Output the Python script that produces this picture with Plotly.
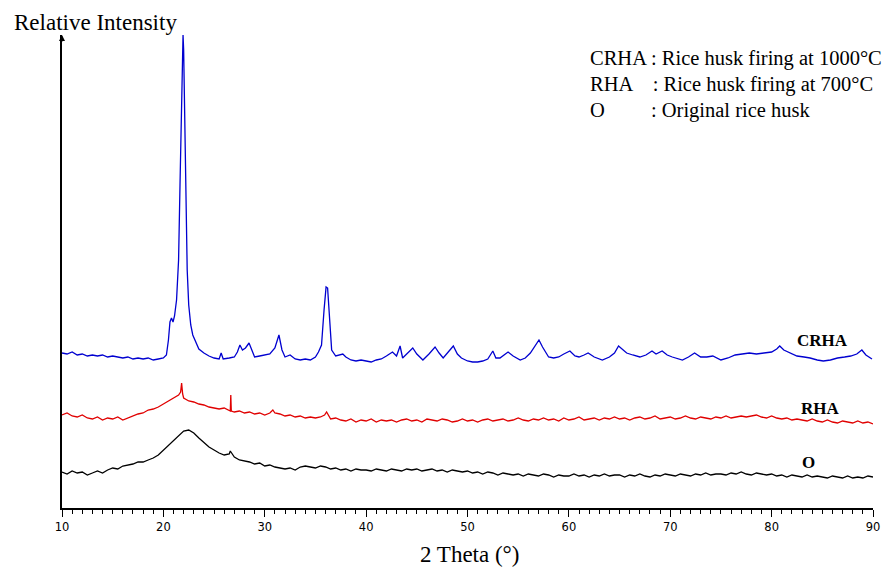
import plotly.graph_objects as go

# ---- CRHA (rice husk fired at 1000 C) ----
crha_theta = [10, 10.5, 11, 11.5, 12, 12.5, 13, 13.5, 14, 14.5, 15, 15.5, 16, 16.5, 17, 17.5, 18, 18.5, 19, 19.5,
              20, 20.3, 20.5, 20.65, 20.8, 20.95, 21.1, 21.3, 21.5, 21.65, 21.78, 21.88, 21.94, 22.0, 22.1, 22.2,
              22.35, 22.5, 22.7, 22.9, 23.2, 23.5, 24, 24.5, 25, 25.5, 25.7, 25.9, 26.5, 27, 27.3, 27.55, 27.8,
              28.1, 28.45, 28.7, 29, 29.5, 30, 30.5, 31, 31.4, 31.7, 32, 32.5, 33, 33.5, 34, 34.5, 35, 35.3, 35.6,
              35.85, 36.05, 36.2, 36.4, 36.6, 37, 37.7, 38, 38.5, 39, 39.5, 40, 40.5, 41, 41.5, 42, 42.6, 43, 43.35,
              43.6, 44, 44.6, 45, 45.6, 46.2, 46.8, 47.2, 47.6, 48.1, 48.6, 49, 49.4, 50, 50.5, 51, 51.5, 52, 52.5,
              52.8, 53.2, 54, 54.5, 55.2, 55.7, 56.2, 56.7, 57.05, 57.4, 58, 58.5, 59, 59.5, 60.1, 60.6, 61, 61.5,
              61.9, 62.5, 63.3, 64, 64.5, 64.9, 65.3, 65.7, 66.3, 67, 67.6, 68.2, 68.6, 69.2, 69.7, 70.2, 71.2,
              71.8, 72.4, 73, 73.6, 74.2, 75, 75.7, 76.4, 77, 77.8, 78.5, 79.3, 80, 80.5, 80.8, 81.2, 81.8, 82.5,
              83.2, 83.8, 84.5, 85.1, 85.8, 86.5, 87.2, 87.8, 88.4, 88.9, 89.3, 89.9]
crha_int = [155, 154, 156, 153, 154, 152, 153, 152, 153, 151, 152, 151, 150, 151, 149, 150, 149, 150, 148, 149,
            150, 153, 168, 186, 190, 186, 192, 208, 248, 328, 408, 468, 473, 458, 388, 308,
            238, 203, 183, 173, 165, 159, 155, 152, 150, 149, 155, 149, 150, 151, 156, 163, 158,
            160, 165, 158, 151, 152, 153, 154, 160, 173, 158, 151, 153, 149, 148, 149, 148, 151, 156, 163,
            198, 221, 220, 188, 158, 152, 154, 151, 148, 147, 148, 147, 146, 148, 149, 152, 156, 152, 162,
            150, 154, 160, 154, 148, 154, 161, 155, 150, 156, 162, 154, 150, 147, 146, 146, 147, 149, 157,
            150, 150, 156, 152, 148, 150, 155, 163, 168, 161, 151, 150, 151, 154, 157, 152, 151, 153,
            155, 151, 148, 151, 155, 162, 158, 155, 153, 151, 153, 157, 154, 157, 153, 151, 148,
            151, 155, 151, 151, 152, 148, 150, 153, 154, 155, 154, 155, 156, 159, 162, 158, 155, 152,
            151, 150, 148, 147, 148, 150, 151, 152, 154, 158, 153, 149]

# ---- RHA (rice husk fired at 700 C) ----
rha_theta = [10, 10.5, 11, 11.5, 12, 12.5, 13, 13.5, 14, 14.5, 15, 15.5, 16, 16.5, 17, 17.5, 18, 18.5, 19, 19.5,
             20, 20.5, 21, 21.5, 21.7, 21.8, 21.9, 22, 22.5, 23, 23.5, 24, 24.5, 25, 25.5, 26, 26.5, 26.6, 26.65,
             26.7, 27, 27.5, 28, 28.5, 29, 29.5, 30, 30.5, 30.8, 31, 31.5, 32, 32.5, 33, 33.5, 34, 34.5, 35, 35.5,
             35.9, 36.1, 36.3, 36.5, 37, 37.5,
             38, 38.5, 39, 39.5, 40, 40.5, 41, 41.5, 42, 42.5,
             43, 43.5, 44, 44.5, 45, 45.5, 46, 46.5, 47, 47.5,
             48, 48.5, 49, 49.5, 50, 50.5, 51, 51.5, 52, 52.5,
             53, 53.5, 54, 54.5, 55, 55.5, 56, 56.5, 57, 57.5,
             58, 58.5, 59, 59.5, 60, 60.5, 61, 61.5, 62, 62.5,
             63, 63.5, 64, 64.5, 65, 65.5, 66, 66.5, 67, 67.5,
             68, 68.5, 69, 69.5, 70, 70.5, 71, 71.5, 72, 72.5,
             73, 73.5, 74, 74.5, 75, 75.5, 76, 76.5, 77, 77.5,
             78, 78.5, 79, 79.5, 80, 80.5, 81, 81.5, 82, 82.5,
             83, 83.5, 84, 84.5, 85, 85.5, 86, 86.5, 87, 87.5,
             88, 88.5, 89, 89.5, 90]
rha_int = [93, 95, 92, 91, 93, 90, 89, 91, 88, 90, 89, 91, 88, 90, 92, 94, 95, 98, 99, 101,
           104, 107, 110, 113, 116, 125, 114, 110, 107, 106, 104, 103, 101, 100, 99, 100, 98, 97, 113,
           97, 96, 97, 95, 96, 94, 95, 93, 95, 98, 95, 94, 92, 93, 91, 92, 90, 91, 90, 91,
           93, 96, 92, 89, 90, 88,
           87, 89, 86, 88, 87, 89, 86, 88, 87, 88,
           86, 88, 89, 87, 88, 86, 89, 88, 87, 89,
           88, 86, 87, 89, 87, 88, 86, 88, 89, 87,
           88, 89, 87, 88, 90, 88, 87, 89, 88, 90,
           88, 89, 87, 90, 88, 89, 91, 88, 89, 90,
           88, 90, 89, 91, 89, 90, 88, 90, 91, 89,
           90, 92, 89, 90, 91, 89, 90, 92, 90, 89,
           91, 90, 89, 91, 90, 92, 90, 91, 92, 91,
           92, 93, 91, 90, 92, 90, 89, 90, 88, 89,
           88, 87, 89, 87, 86, 88, 86, 85, 87, 86,
           85, 87, 85, 86, 84]

# ---- O (original rice husk) ----
o_theta = [10, 10.5, 11, 11.5, 12, 12.5, 13, 13.5, 14, 14.5,
           15, 15.5, 16, 16.5, 17, 17.5, 18, 18.5, 19, 19.5,
           20, 20.5, 21, 21.5, 22, 22.5, 23, 23.5, 24, 24.5,
           25, 25.5, 26, 26.5, 26.6, 27, 27.5, 28, 28.5, 29, 29.5,
           30, 30.5, 31, 31.5, 32, 32.5, 33, 33.5, 34, 34.5,
           35, 35.5, 36, 36.5, 37, 37.5, 38, 38.5, 39, 39.5,
           40, 40.5, 41, 41.5, 42, 42.5, 43, 43.5, 44, 44.5,
           45, 45.5, 46, 46.5, 47, 47.5, 48, 48.5, 49, 49.5,
           50, 50.5, 51, 51.5, 52, 52.5, 53, 53.5, 54, 54.5,
           55, 55.5, 56, 56.5, 57, 57.5, 58, 58.5, 59, 59.5,
           60, 60.5, 61, 61.5, 62, 62.5, 63, 63.5, 64, 64.5,
           65, 65.5, 66, 66.5, 67, 67.5, 68, 68.5, 69, 69.5,
           70, 70.5, 71, 71.5, 72, 72.5, 73, 73.5, 74, 74.5,
           75, 75.5, 76, 76.5, 77, 77.5, 78, 78.5, 79, 79.5,
           80, 80.5, 81, 81.5, 82, 82.5, 83, 83.5, 84, 84.5,
           85, 85.5, 86, 86.5, 87, 87.5, 88, 88.5, 89, 89.5, 90]
o_int = [36, 34, 37, 35, 36, 33, 35, 37, 35, 38,
         40, 39, 42, 43, 44, 46, 46, 48, 50, 53,
         58, 63, 68, 73, 77, 78, 75, 70, 65, 61,
         58, 55, 53, 54, 57, 51, 48, 47, 46, 44, 45,
         42, 43, 41, 40, 39, 40, 38, 41, 42, 41,
         40, 42, 41, 39, 40, 38, 39, 37, 39, 38,
         38, 37, 39, 38, 37, 39, 38, 37, 39, 38,
         39, 37, 38, 39, 37, 38, 36, 38, 37, 36,
         37, 35, 36, 34, 36, 35, 33, 35, 34, 33,
         34, 32, 34, 33, 32, 34, 33, 31, 33, 32,
         32, 34, 32, 33, 31, 33, 32, 34, 32, 33,
         33, 31, 33, 32, 34, 32, 31, 33, 32, 34,
         33, 32, 34, 33, 32, 34, 33, 35, 33, 34,
         34, 33, 35, 34, 36, 34, 33, 35, 34, 33,
         34, 32, 33, 31, 33, 32, 31, 33, 31, 32,
         31, 30, 32, 31, 30, 32, 30, 31, 30, 32, 31]

x_ticks = [10, 20, 30, 40, 50, 60, 70, 80, 90]

fig = go.Figure()
fig.add_trace(go.Scatter(x=crha_theta, y=crha_int, mode="lines", line=dict(color="#0000D0", width=1.3), name="CRHA"))
fig.add_trace(go.Scatter(x=rha_theta, y=rha_int, mode="lines", line=dict(color="#E00000", width=1.3), name="RHA"))
fig.add_trace(go.Scatter(x=o_theta, y=o_int, mode="lines", line=dict(color="#000000", width=1.3), name="O"))

serif = "Liberation Serif, Times New Roman, serif"

fig.update_layout(
    width=876, height=562,
    margin=dict(l=54, r=11, t=27, b=62, autoexpand=False),
    plot_bgcolor="white", paper_bgcolor="white",
    showlegend=False,
    xaxis=dict(range=[10, 90], tickvals=x_ticks, ticktext=[str(v) for v in x_ticks], automargin=False,
               showgrid=False, zeroline=False, showline=True, linecolor="black", linewidth=1.5,
               ticks="outside", ticklen=7, tickcolor="black", tickwidth=1,
               minor=dict(dtick=1, ticks="outside", ticklen=4, tickcolor="black", tickwidth=1),
               tickfont=dict(family="DejaVu Sans, Verdana, sans-serif", size=11.5, color="black")),
    yaxis=dict(range=[0, 473], automargin=False, showgrid=False, zeroline=False, showline=True,
               linecolor="black", linewidth=1.5, showticklabels=False, ticks=""),
    annotations=[
        dict(xref="paper", yref="paper", x=-0.0617, y=1.0, yshift=27, xanchor="left", yanchor="top",
             text="Relative Intensity", showarrow=False, font=dict(family=serif, size=23, color="black")),
        dict(xref="paper", yref="paper", x=0.503, y=-0.128, xanchor="center", yanchor="bottom",
             text="2 Theta (°)", showarrow=False, font=dict(family=serif, size=23, color="black")),
        dict(xref="paper", yref="paper", x=0.6486, y=0.951, xanchor="left", yanchor="middle",
             text="CRHA : Rice husk firing at 1000°C", showarrow=False, font=dict(family=serif, size=20.5, color="black")),
        dict(xref="paper", yref="paper", x=0.6486, y=0.896, xanchor="left", yanchor="middle",
             text="RHA    : Rice husk firing at 700°C", showarrow=False, font=dict(family=serif, size=20.5, color="black")),
        dict(xref="paper", yref="paper", x=0.6486, y=0.841, xanchor="left", yanchor="middle",
             text="O         : Original rice husk", showarrow=False, font=dict(family=serif, size=20.5, color="black")),
        dict(x=84.97, y=168, text="<b>CRHA</b>", showarrow=False, xanchor="center", yanchor="middle",
             font=dict(family=serif, size=17, color="black")),
        dict(x=84.8, y=100, text="<b>RHA</b>", showarrow=False, xanchor="center", yanchor="middle",
             font=dict(family=serif, size=17, color="black")),
        dict(x=83.6, y=46, text="<b>O</b>", showarrow=False, xanchor="center", yanchor="middle",
             font=dict(family=serif, size=17, color="black")),
        dict(x=10, y=473, ax=0, ay=8, text="", showarrow=True, arrowhead=2, arrowsize=1, arrowwidth=1.2,
             arrowcolor="black"),
    ],
)

fig.write_html("out.html")
